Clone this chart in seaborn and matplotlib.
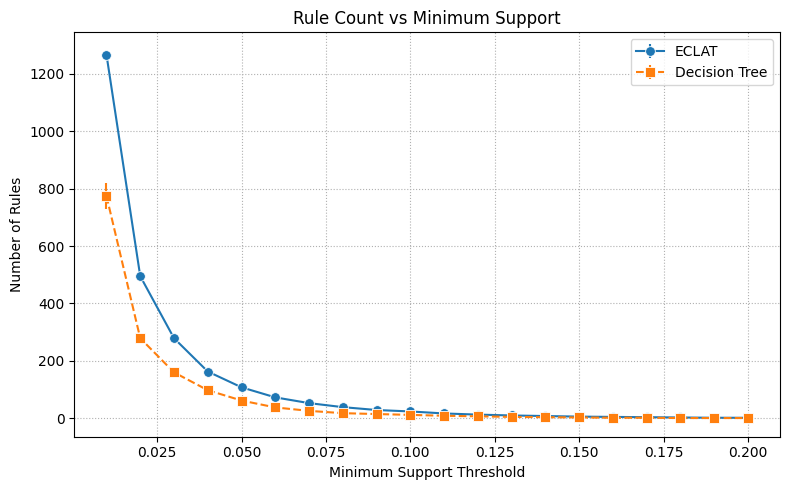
import matplotlib
matplotlib.use("Agg")
import matplotlib.pyplot as plt
import seaborn as sns
import numpy as np

support = [0.01, 0.02, 0.03, 0.04, 0.05, 0.06, 0.07, 0.08, 0.09, 0.10,
           0.11, 0.12, 0.13, 0.14, 0.15, 0.16, 0.17, 0.18, 0.19, 0.20]
eclat_rules = [1266, 495, 279, 163, 108, 73, 53, 39, 29, 24,
               17, 13, 10, 8, 6, 5, 4, 3, 2, 2]
eclat_err = [14, 6, 4, 3, 2, 2, 1, 1, 1, 1, 1, 1, 1, 1, 1, 1, 1, 1, 1, 1]
dt_rules = [774, 279, 160, 98, 62, 38, 26, 18, 15, 12,
            9, 7, 5, 4, 3, 2, 2, 1, 1, 1]
dt_err = [45, 6, 4, 3, 2, 2, 1, 1, 1, 1, 1, 1, 1, 1, 1, 1, 1, 1, 1, 1]

plt.style.use('default')
plt.rcParams['font.family'] = ['DejaVu Sans']
colors = sns.color_palette("tab10")

fig, ax = plt.subplots(figsize=(8, 5), dpi=100)
ax.errorbar(support, eclat_rules, yerr=eclat_err, fmt='-o', color=colors[0],
            markersize=7, markeredgecolor='white', markeredgewidth=0.6,
            label='ECLAT')
ax.errorbar(support, dt_rules, yerr=dt_err, fmt='--s', color=colors[1],
            markersize=7, markeredgecolor='white', markeredgewidth=0.6,
            label='Decision Tree')
ax.set_title('Rule Count vs Minimum Support')
ax.set_xlabel('Minimum Support Threshold')
ax.set_ylabel('Number of Rules')
ax.grid(True, linestyle=':', color='#b0b0b0')
ax.legend(loc='upper right')
fig.tight_layout()
fig.savefig('out.png', dpi=100, bbox_inches='tight')
